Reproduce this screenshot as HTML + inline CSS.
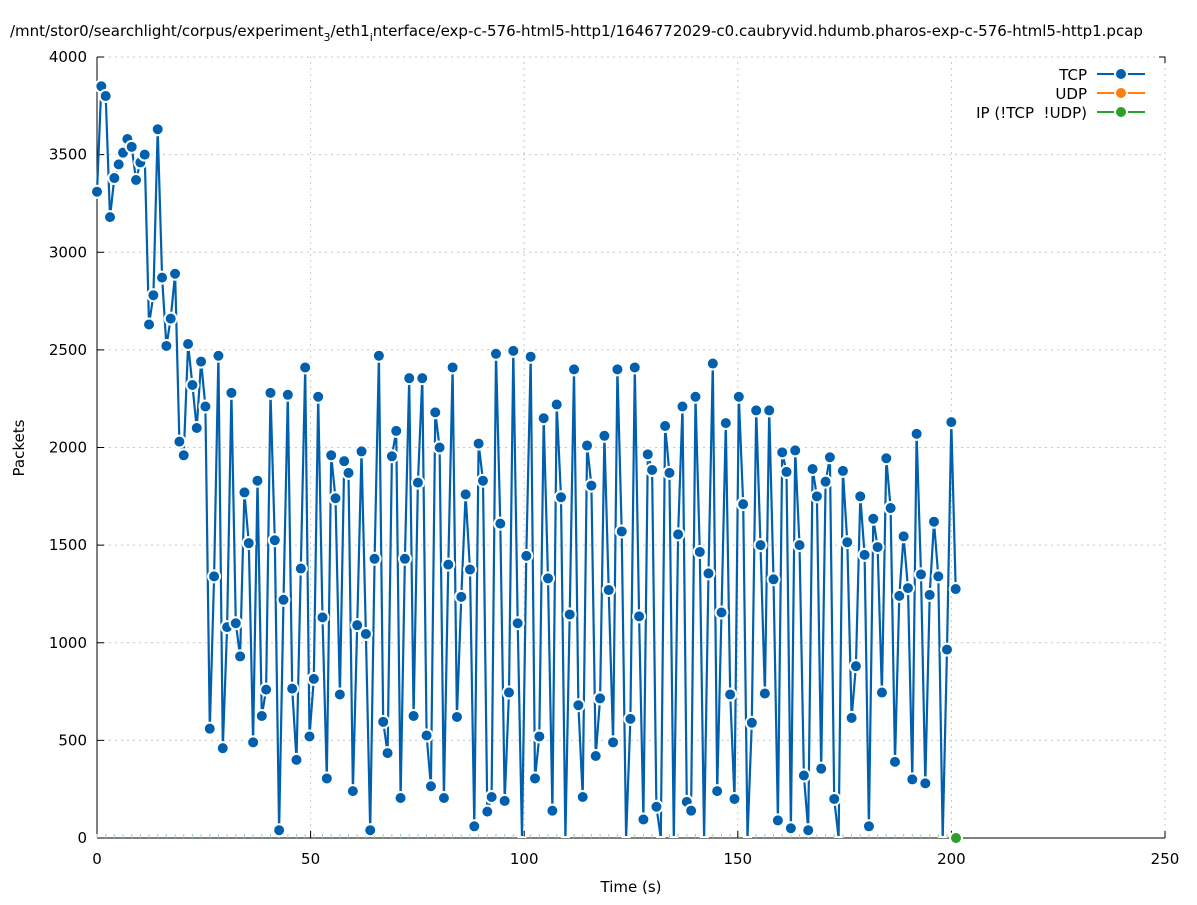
<!DOCTYPE html>
<html><head><meta charset="utf-8"><style>
body{margin:0;background:#fff;}
svg text{font-family:"DejaVu Sans","Liberation Sans",sans-serif;font-size:15px;fill:#000;}
</style></head><body>
<svg id="s" width="1197" height="900" xmlns="http://www.w3.org/2000/svg">
<defs><clipPath id="cp"><rect x="90" y="50" width="1080" height="788"/></clipPath></defs>
<rect width="1197" height="900" fill="#fff"/>
<text x="10" y="36">/mnt/stor0/searchlight/corpus/experiment<tspan font-size="11" dy="5">3</tspan><tspan dy="-5">/eth1</tspan><tspan font-size="11" dy="5">i</tspan><tspan dy="-5">nterface/exp-c-576-html5-http1/1646772029-c0.caubryvid.hdumb.pharos-exp-c-576-html5-http1.pcap</tspan></text>
<g id="grid" stroke="#c8c8c8" stroke-width="1" stroke-dasharray="2,4"></g>
<g id="axes"></g>
<g id="data"></g>
<text x="631" y="892" text-anchor="middle">Time (s)</text>
<text transform="translate(24,448) rotate(-90)" text-anchor="middle">Packets</text>
<g>
<text x="1087" y="80" text-anchor="end">TCP</text>
<line x1="1097" y1="74" x2="1145" y2="74" stroke="#0060ad" stroke-width="2"/>
<circle cx="1121" cy="74" r="6" fill="#0060ad" stroke="#fff" stroke-width="2"/>
<text x="1087" y="99" text-anchor="end">UDP</text>
<line x1="1097" y1="93" x2="1145" y2="93" stroke="#ff7f0e" stroke-width="2"/>
<circle cx="1121" cy="93" r="6" fill="#ff7f0e" stroke="#fff" stroke-width="2"/>
<text x="1087" y="118" text-anchor="end" xml:space="preserve">IP (!TCP  !UDP)</text>
<line x1="1097" y1="112" x2="1145" y2="112" stroke="#2ca02c" stroke-width="2"/>
<circle cx="1121" cy="112" r="6" fill="#2ca02c" stroke="#fff" stroke-width="2"/>
</g>
</svg>
<script>
var NS="http://www.w3.org/2000/svg";
function el(p,t,a){var e=document.createElementNS(NS,t);for(var k in a)e.setAttribute(k,a[k]);p.appendChild(e);return e;}
var X0=97,X1=1165,Y0=838,Y1=57;
function px(t){return X0+(X1-X0)*t/250;}
function py(v){return Y0-(Y0-Y1)*v/4000;}
var g=document.getElementById('grid'),ax=document.getElementById('axes'),d=document.getElementById('data');
for(var t=0;t<=250;t+=50){var x=px(t);if(t>0)el(g,'line',{x1:x,y1:Y0,x2:x,y2:Y1});
el(ax,'line',{x1:x,y1:Y0,x2:x,y2:Y0-7,stroke:'#000'});
var tx=el(ax,'text',{x:x,y:864,'text-anchor':'middle'});tx.textContent=t;}
for(var v=0;v<=4000;v+=500){var y=py(v);if(v>0)el(g,'line',{x1:X0,y1:y,x2:X1,y2:y});
el(ax,'line',{x1:X0,y1:y,x2:X0+7,y2:y,stroke:'#000'});
var ty=el(ax,'text',{x:87,y:y+5,'text-anchor':'end'});ty.textContent=v;}
el(ax,'line',{x1:X0,y1:Y1,x2:X0,y2:Y0,stroke:'#000'});
el(ax,'line',{x1:X0,y1:Y0,x2:X1,y2:Y0,stroke:'#000'});
el(ax,'path',{d:'M'+(X1-6)+','+Y1+'H'+X1+'V'+(Y1+6),fill:'none',stroke:'#000'});
var vals=[3310,3850,3800,3180,3380,3450,3510,3580,3540,3370,3460,3500,2630,2780,3630,2870,2520,2660,2890,2030,1960,2530,2320,2100,2440,2210,560,1340,2470,460,1080,2280,1100,930,1770,1510,490,1830,625,760,2280,1525,40,1220,2270,765,400,1380,2410,520,815,2260,1130,305,1960,1740,735,1930,1870,240,1090,1980,1045,40,1430,2470,595,435,1955,2085,205,1430,2355,625,1820,2355,525,265,2180,2000,205,1400,2410,620,1235,1760,1375,60,2020,1830,135,210,2480,1610,190,745,
2495,1100,0,1445,2465,305,520,2150,1330,140,2220,1745,0,1145,2400,680,210,2010,1805,420,715,2060,1270,490,2400,1570,0,610,2410,1135,95,1965,1885,160,0,2110,1870,0,1555,2210,185,140,2260,1465,0,1355,2430,240,1155,2125,735,200,2260,1710,0,590,2190,1500,740,2190,1325,90,1975,1875,50,1985,1500,320,40,1890,1750,355,1825,1950,200,0,1880,1515,615,880,1750,1450,60,1635,1490,745,1945,1690,390,1240,1545,1280,300,2070,1350,280,1245,1620,1340,0,965,2130,1275];
var n=vals.length,pts=[];
for(var i=0;i<n;i++){pts.push([px(i*201/(n-1)),py(vals[i])]);}
for(var i=0;i<n;i+=2){el(d,'line',{x1:pts[i][0],y1:Y0-4,x2:pts[i][0],y2:Y0,stroke:'#9fd39f','stroke-width':1});}
var cg=el(d,'g',{'clip-path':'url(#cp)'});
el(cg,'polyline',{points:pts.map(function(p){return p[0].toFixed(1)+','+p[1].toFixed(1)}).join(' '),fill:'none',stroke:'#0060ad','stroke-width':2.2});
for(var i=0;i<n;i++){var cy=pts[i][1];if(vals[i]<30)cy+=5;el(cg,'circle',{cx:pts[i][0],cy:cy,r:6,fill:'#0060ad',stroke:'#fff','stroke-width':2});}
el(d,'circle',{cx:956,cy:838,r:6,fill:'#2ca02c',stroke:'#fff','stroke-width':2});
</script>
</body></html>
